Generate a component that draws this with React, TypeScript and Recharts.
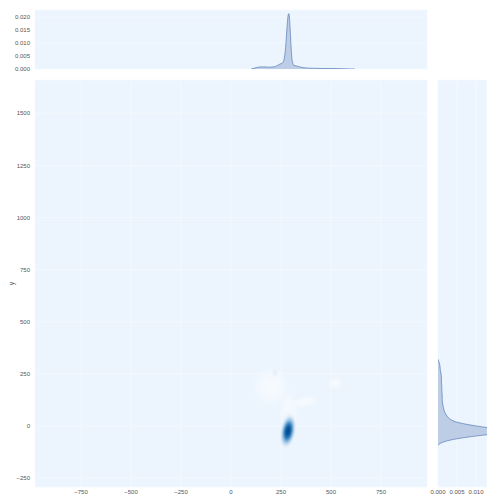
import React from 'react'
import { Area, AreaChart, CartesianGrid, Scatter, ScatterChart, XAxis, YAxis } from 'recharts'

// axis ticks
const xTicks = [-750, -500, -250, 0, 250, 500, 750]
const yTicks = [-250, 0, 250, 500, 750, 1000, 1250, 1500]
const topDensTicks = [0, 0.005, 0.01, 0.015, 0.02]
const rightDensTicks = [0, 0.005, 0.01]

// marginal kde of x (top)
const topX = [100, 115, 130, 150, 170, 190, 210, 228, 245, 258, 266, 272, 277, 282, 286, 289, 292, 296, 300, 304, 309, 315, 325, 340, 355, 375, 400, 450, 500, 560, 620]
const topDens = [0, 0.0003, 0.0006, 0.0008, 0.0008, 0.0007, 0.0008, 0.0012, 0.0019, 0.0024, 0.004, 0.0075, 0.0125, 0.018, 0.0208, 0.0213, 0.02, 0.015, 0.009, 0.0045, 0.0022, 0.0014, 0.0012, 0.0009, 0.0006, 0.0004, 0.0003, 0.0002, 0.0002, 0.0001, 0]

// marginal kde of y (right)
const rightY = [320, 305, 290, 270, 250, 230, 210, 190, 170, 150, 130, 110, 90, 70, 55, 40, 28, 18, 8, 0, -8, -16, -24, -30, -36, -44, -52, -60, -68, -76, -84, -92]
const rightDens = [0, 0.0003, 0.0005, 0.0006, 0.0008, 0.0009, 0.0009, 0.001, 0.001, 0.0011, 0.0011, 0.0012, 0.0014, 0.0017, 0.0021, 0.0027, 0.0036, 0.005, 0.0075, 0.01, 0.013, 0.0155, 0.017, 0.0172, 0.016, 0.012, 0.0085, 0.0055, 0.0032, 0.0016, 0.0006, 0]

// 2d kde, read as a few density blobs (centre, spread, level)
const blobX = [200, 290, 520, 370, 220, 285, 285]
const blobY = [190, 60, 205, 115, 255, 25, -25]
const blobSdX = [95, 45, 40, 70, 18, 35, 42]
const blobSdY = [95, 110, 30, 28, 28, 60, 88]
const blobTilt = [0, 0, 0, -10, 0, 8, 10]
const blobLevel = [0, 0, 0, 0, 1, 1, 2]

const X_DOMAIN = [-980, 980]
const Y_DOMAIN = [-293, 1660]
const BG = '#ecf5fd'
const GRID = '#f5f9fe'
const KDE = '#4c72b0'
const TICK = { fontSize: 6, fill: '#555', fontFamily: 'Liberation Sans, Arial, sans-serif' }

const PLOT_W = 392
const PLOT_H = 407
const PX_X = PLOT_W / (X_DOMAIN[1] - X_DOMAIN[0])
const PX_Y = PLOT_H / (Y_DOMAIN[1] - Y_DOMAIN[0])

const fmtNum = (v: number) => (v < 0 ? '\u2212' + Math.abs(v) : String(v))
const fmtDens = (v: number) => v.toFixed(3)

const topData = topX.map((x, i) => ({ x, d: topDens[i] }))
const rightData = rightY.map((y, i) => ({ y, d: rightDens[i] }))
const blobs = blobX.map((x, i) => ({
  x,
  y: blobY[i],
  sdX: blobSdX[i],
  sdY: blobSdY[i],
  tilt: blobTilt[i],
  level: blobLevel[i],
}))

const levelStops: Record<number, [number, string, number][]> = {
  0: [[0, '#f9fcff', 0.8], [0.6, '#f8fbff', 0.55], [1, '#f8fbff', 0]],
  1: [[0, '#dfebf7', 0.8], [0.6, '#e6f0fa', 0.5], [1, '#eef5fd', 0]],
  2: [[0, '#08468a', 1], [0.2, '#0a549c', 1], [0.4, '#2a7aba', 0.95], [0.6, '#7fb5db', 0.8], [0.8, '#cfe1f3', 0.6], [1, '#eaf3fc', 0]],
}

const renderBlob = (props: any) => {
  const { cx, cy, payload, index } = props
  const id = `blob-${index}-${payload.level}`
  return (
    <g>
      <defs>
        <radialGradient id={id}>
          {levelStops[payload.level].map(([o, c, a], k) => (
            <stop key={k} offset={o} stopColor={c} stopOpacity={a} />
          ))}
        </radialGradient>
      </defs>
      <ellipse
        cx={cx}
        cy={cy}
        rx={payload.sdX * PX_X}
        ry={payload.sdY * PX_Y}
        fill={`url(#${id})`}
        transform={`rotate(${payload.tilt} ${cx} ${cy})`}
      />
    </g>
  )
}

const YLabel = (props: any) => {
  const { viewBox } = props
  const x = viewBox.x + 14
  const y = viewBox.y + viewBox.height / 2
  return (
    <text x={x} y={y} transform={`rotate(-90 ${x} ${y})`} textAnchor="middle" fontSize={7} fill="#555" fontFamily="Liberation Sans, Arial, sans-serif">
      y
    </text>
  )
}

function App() {
  return (
    <div style={{ position: 'absolute', left: 0, top: 0, width: 487, height: 500, overflow: 'hidden', background: '#fff' }}>
      <div style={{ position: 'absolute', left: 0, top: 0 }}>
        <AreaChart width={430} height={75} data={topData} margin={{ top: 10, right: 3, bottom: 6, left: 0 }}>
          <CartesianGrid fill={BG} stroke={GRID} strokeWidth={0.8} />
          <XAxis type="number" dataKey="x" domain={X_DOMAIN} ticks={xTicks} allowDataOverflow height={0} tick={false} axisLine={false} tickLine={false} />
          <YAxis type="number" domain={[0, 0.0227]} ticks={topDensTicks} allowDataOverflow width={35} axisLine={false} tickLine={false} tickSize={0} tickMargin={5} tick={TICK} tickFormatter={fmtDens} />
          <Area type="monotone" dataKey="d" stroke={KDE} strokeWidth={0.8} strokeOpacity={0.8} fill={KDE} fillOpacity={0.3} baseValue={0} isAnimationActive={false} />
        </AreaChart>
      </div>
      <div style={{ position: 'absolute', left: 0, top: 0 }}>
        <ScatterChart width={430} height={500} margin={{ top: 80, right: 3, bottom: 0, left: 0 }}>
          <CartesianGrid fill={BG} stroke={GRID} strokeWidth={0.8} />
          <XAxis type="number" dataKey="x" domain={X_DOMAIN} ticks={xTicks} allowDataOverflow height={13} axisLine={false} tickLine={false} tickSize={0} tickMargin={3} tick={TICK} tickFormatter={fmtNum} />
          <YAxis type="number" dataKey="y" domain={Y_DOMAIN} ticks={yTicks} allowDataOverflow width={35} axisLine={false} tickLine={false} tickSize={0} tickMargin={5} tick={TICK} tickFormatter={fmtNum} label={<YLabel />} />
          <Scatter data={blobs} shape={renderBlob} isAnimationActive={false} />
        </ScatterChart>
      </div>
      <div style={{ position: 'absolute', left: 430, top: 0 }}>
        <AreaChart layout="vertical" width={57} height={500} data={rightData} margin={{ top: 80, right: 0, bottom: 0, left: 8 }}>
          <CartesianGrid fill={BG} stroke={GRID} strokeWidth={0.8} />
          <XAxis type="number" domain={[0, 0.0129]} ticks={rightDensTicks} allowDataOverflow height={13} axisLine={false} tickLine={false} tickSize={0} tickMargin={3} tick={TICK} tickFormatter={fmtDens} interval={0} />
          <YAxis type="number" dataKey="y" domain={Y_DOMAIN} ticks={yTicks} allowDataOverflow reversed width={0} tick={false} axisLine={false} tickLine={false} />
          <Area type="monotone" dataKey="d" stroke={KDE} strokeWidth={0.8} strokeOpacity={0.8} fill={KDE} fillOpacity={0.3} baseValue={0} isAnimationActive={false} />
        </AreaChart>
      </div>
    </div>
  )
}

export default App
